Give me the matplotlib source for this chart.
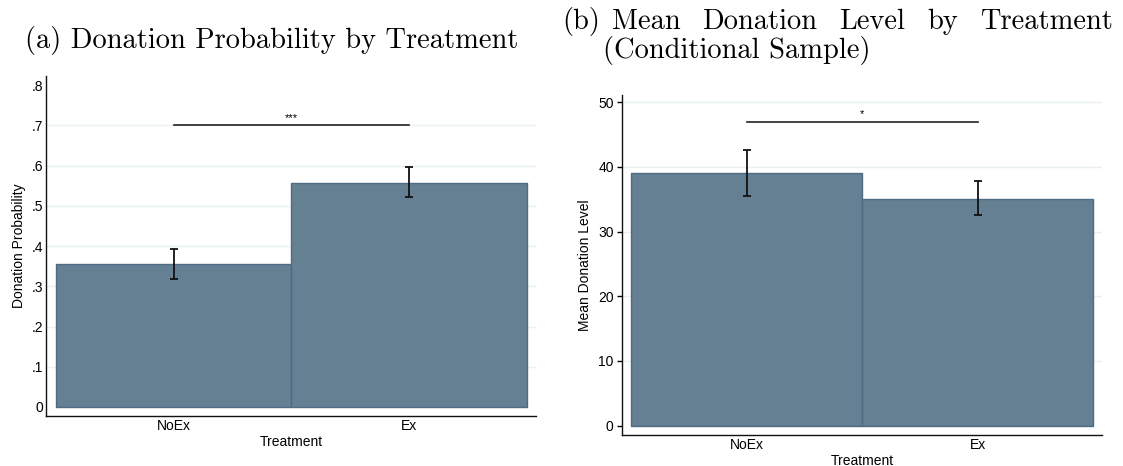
import matplotlib

matplotlib.use("Agg")
import matplotlib.pyplot as plt

# values
treatments = ["NoEx", "Ex"]

prob_mean = [0.355, 0.558]
prob_lo = [0.318, 0.521]
prob_hi = [0.393, 0.597]
prob_sig_y = 0.70
prob_sig_label = "***"
prob_ticks = [0, 0.1, 0.2, 0.3, 0.4, 0.5, 0.6, 0.7, 0.8]
prob_tick_labels = ["0", ".1", ".2", ".3", ".4", ".5", ".6", ".7", ".8"]
prob_grid = [0.1, 0.2, 0.3, 0.4, 0.5, 0.6, 0.7]

level_mean = [39.0, 35.1]
level_lo = [35.5, 32.6]
level_hi = [42.6, 37.8]
level_sig_y = 47.0
level_sig_label = "*"
level_ticks = [0, 10, 20, 30, 40, 50]
level_grid = [10, 20, 30, 40, 50]

BAR_COLOR = "#658093"
EDGE_COLOR = "#4d6b84"
GRID_COLOR = "#e8f0f2"
SANS = "Liberation Sans"
SERIF = "cmr10"

W, H = 1123, 466
fig = plt.figure(figsize=(W / 100, H / 100), dpi=100)


def px_axes(x0, y0, x1, y1):
    return fig.add_axes([x0 / W, 1 - y1 / H, (x1 - x0) / W, (y1 - y0) / H])


def draw_panel(ax, means, lo, hi, sig_y, sig_label, ylim, ticks, tick_labels, grid,
               ylabel, ytick_len):
    xs = list(range(len(means)))
    ax.bar(xs, means, width=1.0, color=BAR_COLOR, edgecolor=EDGE_COLOR, linewidth=1.0, zorder=2)
    yerr = [[m - l for m, l in zip(means, lo)], [h - m for m, h in zip(means, hi)]]
    ax.errorbar(xs, means, yerr=yerr, fmt="none", ecolor="#111111", elinewidth=1.3,
                capsize=3.2, capthick=1.3, zorder=3)
    ax.plot([xs[0], xs[-1]], [sig_y, sig_y], color="#222222", linewidth=1.2, zorder=3)
    ax.annotate(sig_label, xy=((xs[0] + xs[-1]) / 2, sig_y), xytext=(0, 1.5),
                textcoords="offset points", ha="center", va="bottom",
                fontsize=8, family=SANS)

    ax.set_xlim(-0.54, 1.538)
    ax.set_ylim(*ylim)
    ax.set_yticks(ticks)
    ax.set_yticklabels(tick_labels if tick_labels else [str(t) for t in ticks])
    for g in grid:
        ax.axhline(g, color=GRID_COLOR, linewidth=1.0, zorder=0)
    ax.set_xticks(xs)
    ax.set_xticklabels(treatments)
    ax.tick_params(axis="x", length=0, pad=2.5, labelsize=10)
    ax.tick_params(axis="y", length=ytick_len, width=1.0, pad=2.5 if ytick_len else 2,
                   labelsize=10)
    for lab in ax.get_xticklabels() + ax.get_yticklabels():
        lab.set_family(SANS)
    ax.set_xlabel("Treatment", family=SANS, fontsize=10, labelpad=1)
    ax.set_ylabel(ylabel, family=SANS, fontsize=10, labelpad=4)
    for side in ("top", "right"):
        ax.spines[side].set_visible(False)
    for side in ("left", "bottom"):
        ax.spines[side].set_linewidth(1.0)
        ax.spines[side].set_color("#111111")


ax1 = px_axes(46.4, 76, 535.7, 416)
draw_panel(ax1, prob_mean, prob_lo, prob_hi, prob_sig_y, prob_sig_label,
           (-0.0224, 0.823), prob_ticks, prob_tick_labels, prob_grid,
           "Donation Probability", 0)

ax2 = px_axes(622.1, 95, 1102, 435)
draw_panel(ax2, level_mean, level_lo, level_hi, level_sig_y, level_sig_label,
           (-1.44, 51.1), level_ticks, None, level_grid, "Mean Donation Level", 3.6)

# captions, LaTeX subcaption style
TITLE_SIZE = 20.5
fig.text(271.5 / W, 1 - 48 / H, "(a) Donation Probability by Treatment", ha="center",
         va="baseline", family=SERIF, fontsize=TITLE_SIZE)

fig.text(562 / W, 1 - 29 / H, "(b)", ha="left", va="baseline", family=SERIF,
         fontsize=TITLE_SIZE)
words = ["Mean", "Donation", "Level", "by", "Treatment"]
line_x0, line_x1 = 612, 1113
fig.canvas.draw()
renderer = fig.canvas.get_renderer()
texts = [fig.text(0, 1 - 29 / H, w, ha="left", va="baseline", family=SERIF,
                  fontsize=TITLE_SIZE) for w in words]
widths = [t.get_window_extent(renderer).width for t in texts]
gap = (line_x1 - line_x0 - sum(widths)) / (len(words) - 1)
x = line_x0
for t, w in zip(texts, widths):
    t.set_x(x / W)
    x += w + gap
fig.text(603 / W, 1 - 58 / H, "(Conditional Sample)", ha="left", va="baseline",
         family=SERIF, fontsize=TITLE_SIZE)

fig.savefig("out.png", dpi=100)
